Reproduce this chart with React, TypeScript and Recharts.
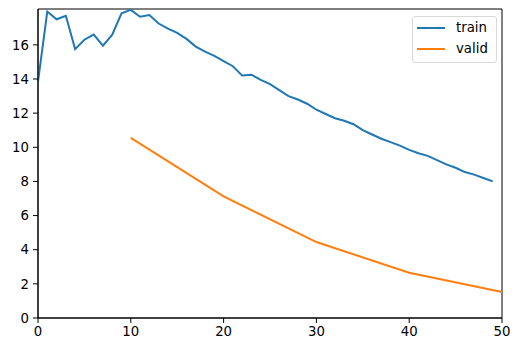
import { LineChart, Line, XAxis, YAxis, ReferenceArea } from 'recharts';

const epochs = Array.from({ length: 51 }, (_, i) => i);

const trainLoss = [
  13.85, 17.95, 17.5, 17.7, 15.75, 16.3, 16.6, 15.95, 16.6, 17.85,
  18.05, 17.65, 17.75, 17.25, 16.95, 16.7, 16.35, 15.9, 15.6, 15.35,
  15.05, 14.75, 14.2, 14.25, 13.95, 13.7, 13.35, 13.0, 12.8, 12.55,
  12.2, 11.95, 11.7, 11.55, 11.35, 11.0, 10.75, 10.5, 10.3, 10.1,
  9.85, 9.65, 9.5, 9.25, 9.0, 8.8, 8.55, 8.4, 8.2, 8.0,
];

const validEpochs = [10, 20, 30, 40, 50];
const validLoss = [10.55, 7.12, 4.45, 2.65, 1.52];

const xTicks = [0, 10, 20, 30, 40, 50];
const yTicks = [0, 2, 4, 6, 8, 10, 12, 14, 16];

const FONT = 'DejaVu Sans, sans-serif';

const data = epochs.map((e) => {
  const vi = validEpochs.indexOf(e);
  return {
    epoch: e,
    train: e < trainLoss.length ? trainLoss[e] : null,
    valid: vi >= 0 ? validLoss[vi] : null,
  };
});

const series = [
  { key: 'train', color: '#1f77b4' },
  { key: 'valid', color: '#ff7f0e' },
];

// matplotlib-looking legend box, laid over the chart
const LegendBox = () => (
  <div
    style={{
      position: 'absolute',
      top: 16,
      left: 412,
      width: 83,
      height: 45,
      border: '1px solid #d9d9d9',
      borderRadius: 3,
      background: '#fff',
      fontFamily: FONT,
      fontSize: 13.3,
      color: '#000',
    }}
  >
    {series.map((s, i) => (
      <div
        key={s.key}
        style={{ position: 'absolute', top: 2 + i * 20.6, left: 4, height: 18, display: 'flex', alignItems: 'center' }}
      >
        <div style={{ width: 28, height: 2, background: s.color }} />
        <span style={{ marginLeft: 11, lineHeight: '18px' }}>{s.key}</span>
      </div>
    ))}
  </div>
);

export default function App() {
  return (
    <div style={{ position: 'absolute', left: 0, top: 0, width: 521, height: 351, background: '#fff' }}>
      <LineChart width={521} height={351} data={data} margin={{ top: 9, right: 19, left: 0, bottom: 0 }}>
        <XAxis
          dataKey="epoch"
          type="number"
          domain={[0, 50]}
          ticks={xTicks}
          height={33}
          tickSize={5}
          tickMargin={4}
          axisLine={{ stroke: '#000' }}
          tickLine={{ stroke: '#000' }}
          tick={{ fill: '#000', fontSize: 13.3, fontFamily: FONT }}
        />
        <YAxis
          type="number"
          domain={[0, 18.1]}
          ticks={yTicks}
          width={38}
          tickSize={5}
          tickMargin={4}
          axisLine={{ stroke: '#000' }}
          tickLine={{ stroke: '#000' }}
          tick={{ fill: '#000', fontSize: 13.3, fontFamily: FONT }}
        />
        <ReferenceArea x1={0} x2={50} y1={0} y2={18.1} fill="none" stroke="#000" strokeWidth={1} />
        <Line
          dataKey="train"
          stroke="#1f77b4"
          strokeWidth={2}
          dot={false}
          isAnimationActive={false}
        />
        <Line
          dataKey="valid"
          stroke="#ff7f0e"
          strokeWidth={2}
          dot={false}
          connectNulls
          isAnimationActive={false}
        />
      </LineChart>
      <LegendBox />
    </div>
  );
}
